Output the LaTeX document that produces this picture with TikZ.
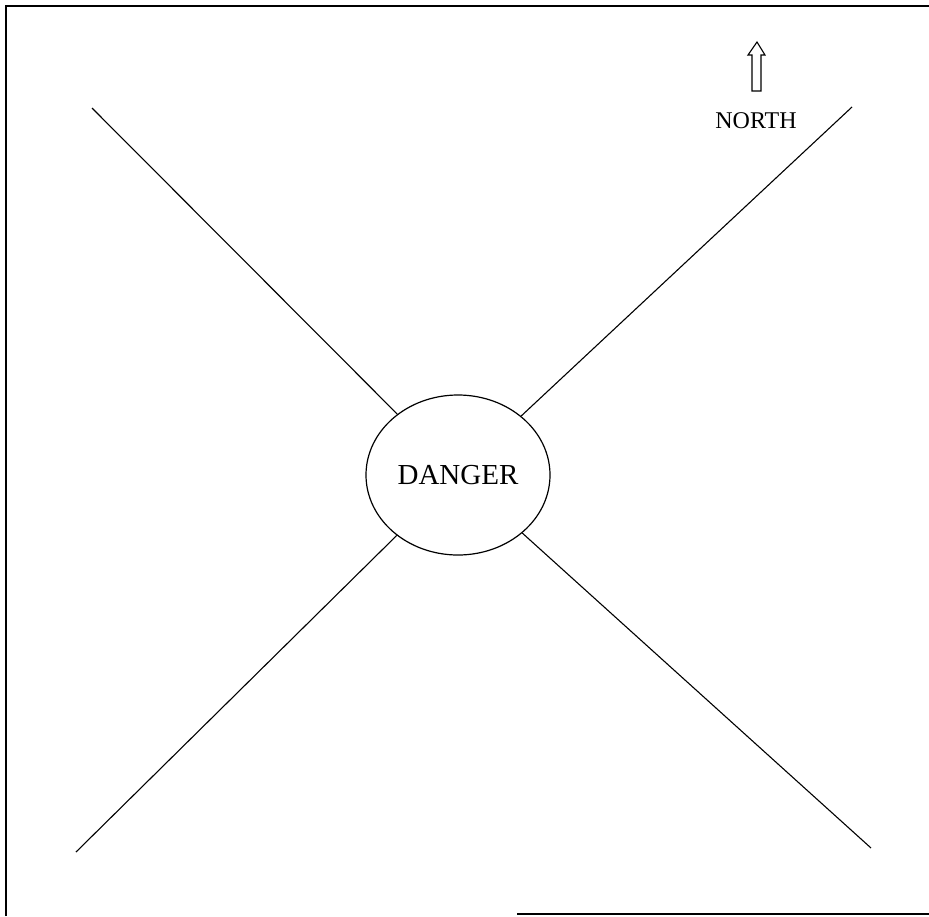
\documentclass[tikz,border=0pt]{standalone}
\usepackage{fontspec}
\setmainfont{Liberation Serif}
\usetikzlibrary{shapes.geometric}
\begin{document}
\begin{tikzpicture}[x=1pt,y=-1pt,
  ray/.style={draw=black,line width=1.1pt},
  frame/.style={draw=black,line width=1.4pt},
  hub/.style={ellipse,draw=black,line width=1.2pt,minimum width=184pt,minimum height=160pt,inner sep=0pt,font=\fontsize{29}{32}\selectfont},
  lbl/.style={inner sep=0pt,font=\fontsize{24}{27}\selectfont}]
\useasboundingbox (0,0) rectangle (929,916);
% frame (partial, as scanned)
\coordinate (f1) at (6,916);
\coordinate (f2) at (6,6);
\coordinate (f3) at (929,6);
\coordinate (f4) at (517,914);
\coordinate (f5) at (929,914);
\draw[frame] (f1) -- (f2) -- (f3);
\draw[frame] (f4) -- (f5);
% centre
\node[hub] (d) at (458,475) {DANGER};
% ray ends
\coordinate (ul) at (92,108);
\coordinate (ur) at (852,107);
\coordinate (ll) at (76,852);
\coordinate (lr) at (871,848);
\draw[ray] (d) -- (ul);
\draw[ray] (d) -- (ur);
\draw[ray] (d) -- (ll);
\draw[ray] (d) -- (lr);
% north arrow
\coordinate (a1) at (752,91);
\coordinate (a2) at (752,55);
\coordinate (a3) at (748,55);
\coordinate (tip) at (757,42);
\coordinate (a5) at (765,55);
\coordinate (a6) at (761,55);
\coordinate (a7) at (761,91);
\draw[line width=1.1pt,line join=miter] (a1) -- (a2) -- (a3) -- (tip) -- (a5) -- (a6) -- (a7) -- cycle;
\node[lbl] (n) at (756,121) {NORTH};
\end{tikzpicture}
\end{document}
